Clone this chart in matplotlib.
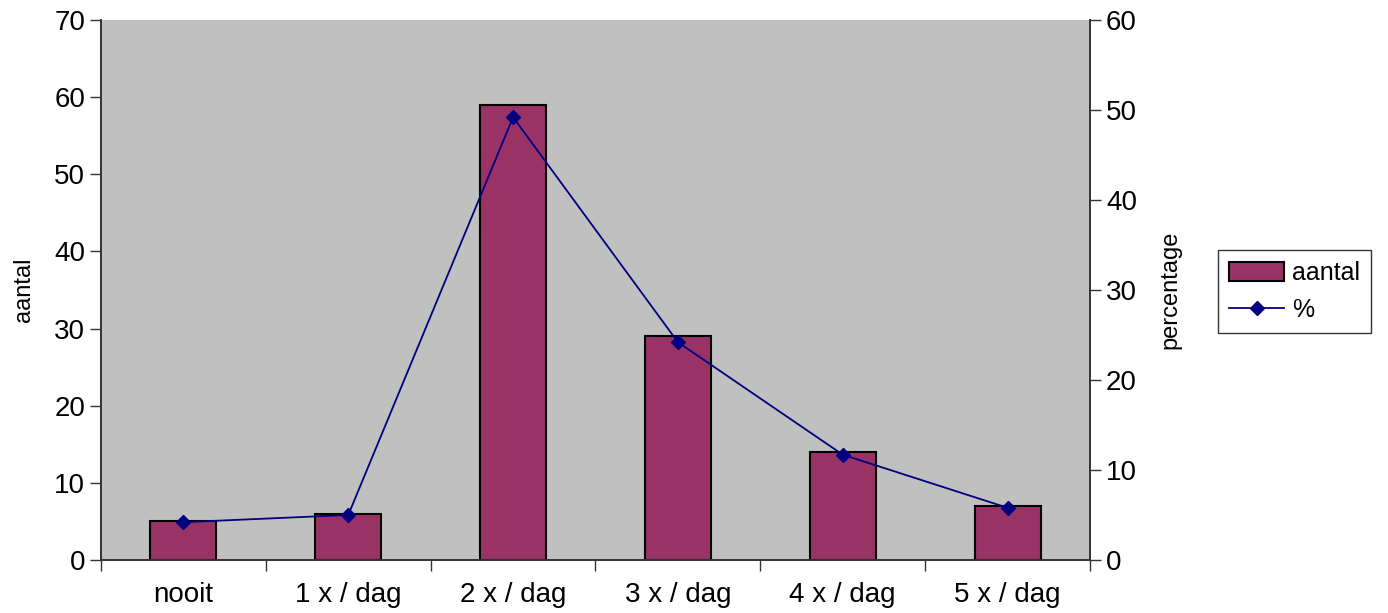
import numpy as np
import matplotlib
matplotlib.use("Agg")
from matplotlib import pyplot as plt
from matplotlib.lines import Line2D
from matplotlib.patches import Patch

categories = ["nooit", "1 x / dag", "2 x / dag", "3 x / dag", "4 x / dag", "5 x / dag"]
aantal = [5, 6, 59, 29, 14, 7]
percentage = [4.2, 5.0, 49.2, 24.2, 11.7, 5.8]

plt.rcParams['font.family'] = ['Liberation Sans', 'DejaVu Sans']

fig = plt.figure(figsize=(13.88, 6.13), dpi=100)
ax = fig.add_axes([101 / 1388, 1 - 560 / 613, (1090 - 101) / 1388, (560 - 20) / 613])
ax.set_facecolor("#c0c0c0")

x = np.arange(len(categories))
ax.bar(x, aantal, width=0.4, color="#993366", edgecolor="black", linewidth=1.5, zorder=2)
ax.set_xlim(-0.5, len(categories) - 0.5)
ax.set_ylim(0, 70)
ax.set_yticks(range(0, 71, 10))
ax.set_ylabel("aantal", fontsize=17, labelpad=14)

ax.set_xticks(x)
ax.set_xticklabels(categories, fontsize=20)
ax.tick_params(axis="x", length=0, pad=16)
ax.set_xticks(np.arange(-0.5, len(categories)), minor=True)
ax.tick_params(axis="x", which="minor", length=8, width=1, color="#333333")
ax.tick_params(axis="y", labelsize=20, length=8, width=1, color="#333333")

ax2 = ax.twinx()
ax2.plot(x, percentage, color="#000080", linewidth=1.3, marker="D", markersize=7, zorder=3)
ax2.set_ylim(0, 60)
ax2.set_yticks(range(0, 61, 10))
ax2.tick_params(axis="y", labelsize=20, length=8, width=1, color="#333333")
ax2.set_ylabel("percentage", fontsize=17, labelpad=16)

for a in (ax, ax2):
    a.spines["top"].set_visible(False)
    for s in ("left", "right", "bottom"):
        a.spines[s].set_color("#333333")
        a.spines[s].set_linewidth(1.2)

handles = [Patch(facecolor="#993366", edgecolor="black", linewidth=1.5),
           Line2D([], [], color="#000080", marker="D", markersize=7, linewidth=1.3)]
leg = fig.legend(handles, ["aantal", "%"], loc="upper left",
                 bbox_to_anchor=(1218 / 1388, 1 - 250 / 613), fontsize=18,
                 frameon=True, fancybox=False, edgecolor="black",
                 handlelength=2.2, handleheight=0.8, handletextpad=0.3,
                 borderpad=0.45, borderaxespad=0, labelspacing=0.5)
leg.get_frame().set_linewidth(1.0)

fig.savefig("out.png", dpi=100)
